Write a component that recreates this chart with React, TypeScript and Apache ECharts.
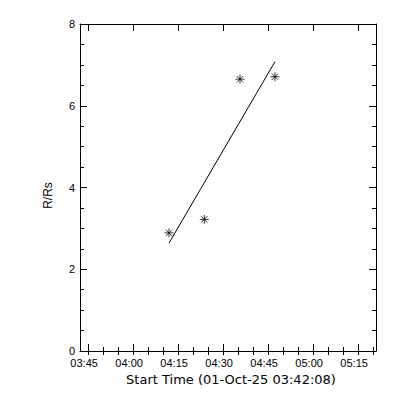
import React, { useEffect, useRef } from 'react';
import * as echarts from 'echarts';

const startTime = '03:42:08';
const endTime = '05:20:48';
const xTickLabels = ['03:45', '04:00', '04:15', '04:30', '04:45', '05:00', '05:15'];
const xMinorStepMin = 5;
const yMin = 0;
const yMax = 8;
const yStep = 2;
const obsTimes = ['04:11:48', '04:23:34', '04:35:28', '04:47:08'];
const obsHeights = [2.89, 3.22, 6.65, 6.71];
const fitTimes = ['04:11:48', '04:47:08'];
const fitHeights = [2.64, 7.08];
const xTitle = 'Start Time (01-Oct-25 03:42:08)';
const yTitle = 'R/Rs';

const toMin = (s: string) => {
  const [h, m, sec] = s.split(':').map(Number);
  return h * 60 + m + (sec || 0) / 60;
};
const pad = (n: number) => (n < 10 ? '0' : '') + n;
const fmt = (v: number) => {
  const total = Math.round(v);
  const h = Math.floor(total / 60);
  const m = total - h * 60;
  return pad(h) + ':' + pad(m);
};

export default function App() {
  const ref = useRef<HTMLDivElement>(null);
  useEffect(() => {
    if (!ref.current) return;
    const chart = echarts.init(ref.current, null, { renderer: 'svg' });
    const xMin = toMin(startTime);
    const xMax = toMin(endTime);
    const major = xTickLabels.map(toMin);
    const minor: number[] = [];
    for (let v = major[0]; v <= xMax; v += xMinorStepMin) minor.push(v);

    const black = '#000';
    const baseX = {
      type: 'value',
      min: xMin,
      max: xMax,
      gridIndex: 0,
      splitLine: { show: false },
      axisLine: { show: true, onZero: false, lineStyle: { color: black, width: 1 } },
    };
    const baseY = {
      type: 'value',
      min: yMin,
      max: yMax,
      interval: yStep,
      splitLine: { show: false },
      minorSplitLine: { show: false },
      axisLine: { show: true, onZero: false, lineStyle: { color: black, width: 1 } },
      axisTick: { show: true, inside: true, length: 7, lineStyle: { color: black } },
      minorTick: { show: true, splitNumber: 4, length: 4, lineStyle: { color: black } },
    };

    chart.setOption({
      animation: false,
      backgroundColor: '#fff',
      grid: { left: 80, right: 24, top: 24, bottom: 49, containLabel: false },
      xAxis: [
        {
          ...baseX,
          position: 'bottom',
          axisTick: { show: true, inside: true, length: 7, customValues: major, lineStyle: { color: black } },
          axisLabel: {
            show: true,
            customValues: major,
            formatter: (v: number) => fmt(v),
            fontFamily: 'Liberation Sans',
            fontSize: 11,
            color: black,
            margin: 6,
            padding: [0, 9, 0, 0],
          },
          name: xTitle,
          nameLocation: 'middle',
          nameGap: 15,
          nameTextStyle: { fontFamily: 'DejaVu Sans', fontSize: 13, color: black, padding: [0, 0, 0, 6] },
        },
        {
          ...baseX,
          position: 'bottom',
          axisLine: { show: false },
          axisTick: { show: true, inside: true, length: 4, customValues: minor, lineStyle: { color: black } },
          axisLabel: { show: false },
        },
        {
          ...baseX,
          position: 'top',
          axisTick: { show: true, inside: true, length: 7, customValues: major, lineStyle: { color: black } },
          axisLabel: { show: false },
        },
        {
          ...baseX,
          position: 'top',
          axisLine: { show: false },
          axisTick: { show: true, inside: true, length: 4, customValues: minor, lineStyle: { color: black } },
          axisLabel: { show: false },
        },
      ],
      yAxis: [
        {
          ...baseY,
          position: 'left',
          axisLabel: { show: true, fontFamily: 'Liberation Sans', fontSize: 11, color: black, margin: 5 },
          name: yTitle,
          nameLocation: 'middle',
          nameRotate: 90,
          nameGap: 26,
          nameTextStyle: { fontFamily: 'Liberation Sans', fontSize: 12, color: black, padding: [0, 16, 0, 0] },
        },
        {
          ...baseY,
          position: 'right',
          axisLabel: { show: false },
        },
      ],
      series: [
        {
          type: 'line',
          xAxisIndex: 0,
          yAxisIndex: 0,
          data: fitTimes.map((t, i) => [toMin(t), fitHeights[i]]),
          showSymbol: false,
          symbol: 'none',
          lineStyle: { color: black, width: 1 },
          silent: true,
        },
        {
          type: 'scatter',
          xAxisIndex: 0,
          yAxisIndex: 0,
          data: obsTimes.map((t, i) => [toMin(t), obsHeights[i]]),
          symbol: 'path://M0,5L10,5M5,0L5,10M1.5,1.5L8.5,8.5M8.5,1.5L1.5,8.5',
          symbolSize: 9,
          itemStyle: { color: 'none', borderColor: black, borderWidth: 1 },
          silent: true,
        },
      ],
    });
    return () => chart.dispose();
  }, []);
  return (
    <div
      ref={ref}
      style={{ position: 'absolute', left: 0, top: 0, width: 400, height: 400, background: '#fff' }}
    />
  );
}
